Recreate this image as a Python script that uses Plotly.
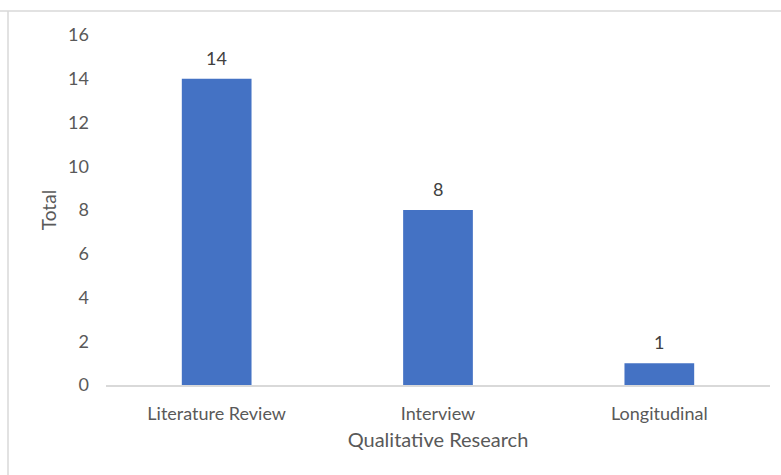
import plotly.graph_objects as go

categories = ["Literature Review", "Interview", "Longitudinal"]
totals = [14, 8, 1]
y_ticks = [0, 2, 4, 6, 8, 10, 12, 14, 16]

FONT = "Lato"
GRAY = "#595959"

fig = go.Figure(go.Bar(
    x=categories, y=totals,
    marker=dict(color="#4472C4", line=dict(width=0)),
    width=0.315,
    hoverinfo="x+y",
))

for c, v in zip(categories, totals):
    fig.add_annotation(x=c, y=v, text=str(v), showarrow=False,
                       yanchor="bottom", yshift=8,
                       font=dict(family=FONT, size=18, color="#404040"))

fig.update_layout(
    width=781, height=475,
    margin=dict(l=106, r=11, t=35, b=90),
    paper_bgcolor="white", plot_bgcolor="white",
    showlegend=False,
    font=dict(family=FONT, size=18, color=GRAY),
    xaxis=dict(
        title=dict(text="Qualitative Research", font=dict(size=20, color=GRAY), standoff=10),
        showline=True, linecolor="#D9D9D9", linewidth=1.5,
        showgrid=False, ticks="", ticklabelstandoff=12,
        tickfont=dict(size=18, color=GRAY),
    ),
    yaxis=dict(
        title=dict(text="Total", font=dict(size=19, color=GRAY), standoff=6),
        range=[0, 16], tickvals=y_ticks,
        showgrid=False, showline=False, zeroline=False, ticks="",
        ticklabelstandoff=16,
        tickfont=dict(size=18, color=GRAY),
    ),
    shapes=[
        dict(type="line", xref="paper", yref="paper",
             x0=-106/664, x1=1 + 11/664, y0=1 + 24/350, y1=1 + 24/350,
             line=dict(color="#D9D9D9", width=1.5)),
        dict(type="line", xref="paper", yref="paper",
             x0=-98/664, x1=-98/664, y0=1 + 24/350, y1=-90/350,
             line=dict(color="#D9D9D9", width=1.5)),
    ],
)

fig.write_html("out.html", config={"displayModeBar": False},
               post_script="document.body.style.margin='0';")
